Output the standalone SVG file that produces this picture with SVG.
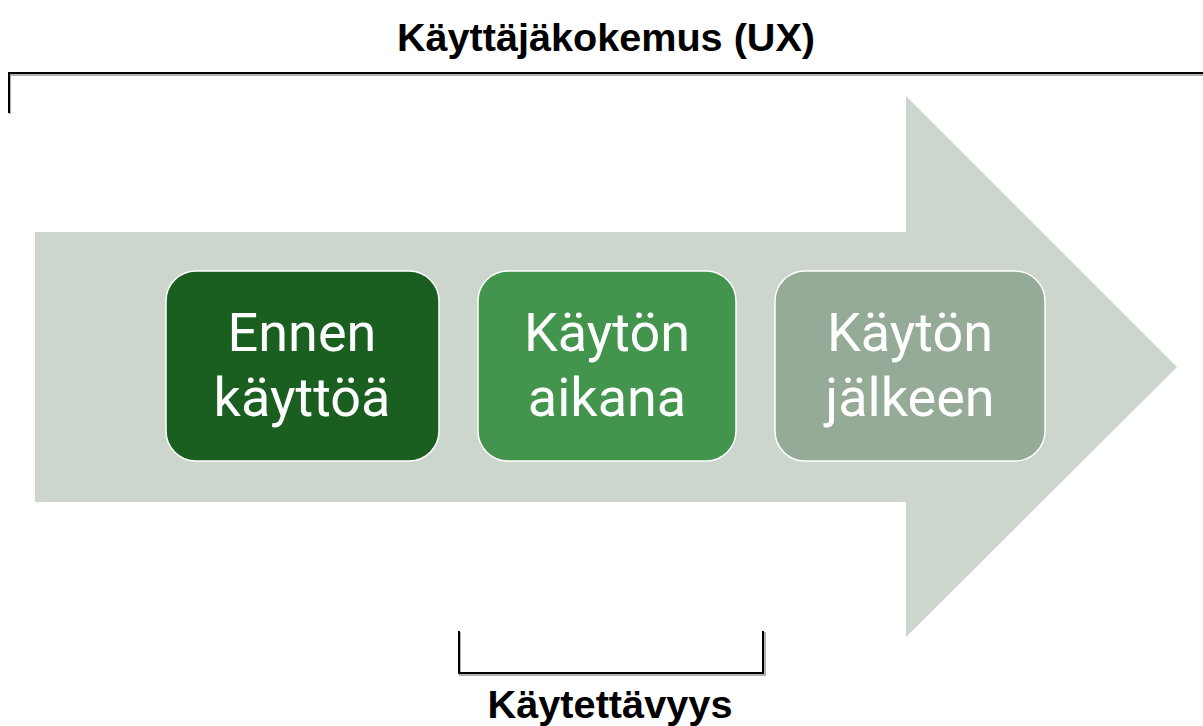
<svg xmlns="http://www.w3.org/2000/svg" width="1203" height="726" viewBox="0 0 1203 726">
<style>
.lbl{font-family:"Liberation Sans",Arial,sans-serif;font-weight:bold;font-size:38px;fill:#000;text-anchor:middle}
.box{stroke:#ffffff;stroke-width:1.5}
.bt{font-family:Roboto,"Noto Sans",sans-serif;font-size:54px;fill:#ffffff;text-anchor:middle}
.br{fill:none;stroke:#000;stroke-width:2}
.brs{fill:none;stroke:#b0b0b0;stroke-width:2}
</style>
<rect width="1203" height="726" fill="#ffffff"/>
<g id="arrow">
<polygon points="35,232 906,232 906,96 1177,367 906,637 906,502 35,502" fill="#ccd6cd"/>
</g>
<g id="ux-label">
<polyline class="brs" points="10,114 10,75 1203,75"/>
<polyline class="br" points="9,113 9,73 1203,73"/>
<text class="lbl" x="606" y="51" textLength="418" lengthAdjust="spacingAndGlyphs">Käyttäjäkokemus (UX)</text>
</g>
<g id="node-ennen">
<rect class="box" x="166" y="271" width="273" height="190" rx="30" fill="#1a5e20"/>
<text class="bt" x="302" y="351">Ennen</text>
<text class="bt" x="302" y="416">käyttöä</text>
</g>
<g id="node-aikana">
<rect class="box" x="478" y="271" width="258" height="190" rx="30" fill="#43944c"/>
<text class="bt" x="607" y="351">Käytön</text>
<text class="bt" x="607" y="416">aikana</text>
</g>
<g id="node-jalkeen">
<rect class="box" x="775" y="271" width="270" height="190" rx="30" fill="#95ab98"/>
<text class="bt" x="910" y="351">Käytön</text>
<text class="bt" x="910" y="416">jälkeen</text>
</g>
<g id="usability-label">
<polyline class="brs" points="460,632 460,675 765,675 765,632"/>
<polyline class="br" points="459,631 459,673 763,673 763,631"/>
<text class="lbl" x="610" y="718" textLength="245" lengthAdjust="spacingAndGlyphs">Käytettävyys</text>
</g>
</svg>
